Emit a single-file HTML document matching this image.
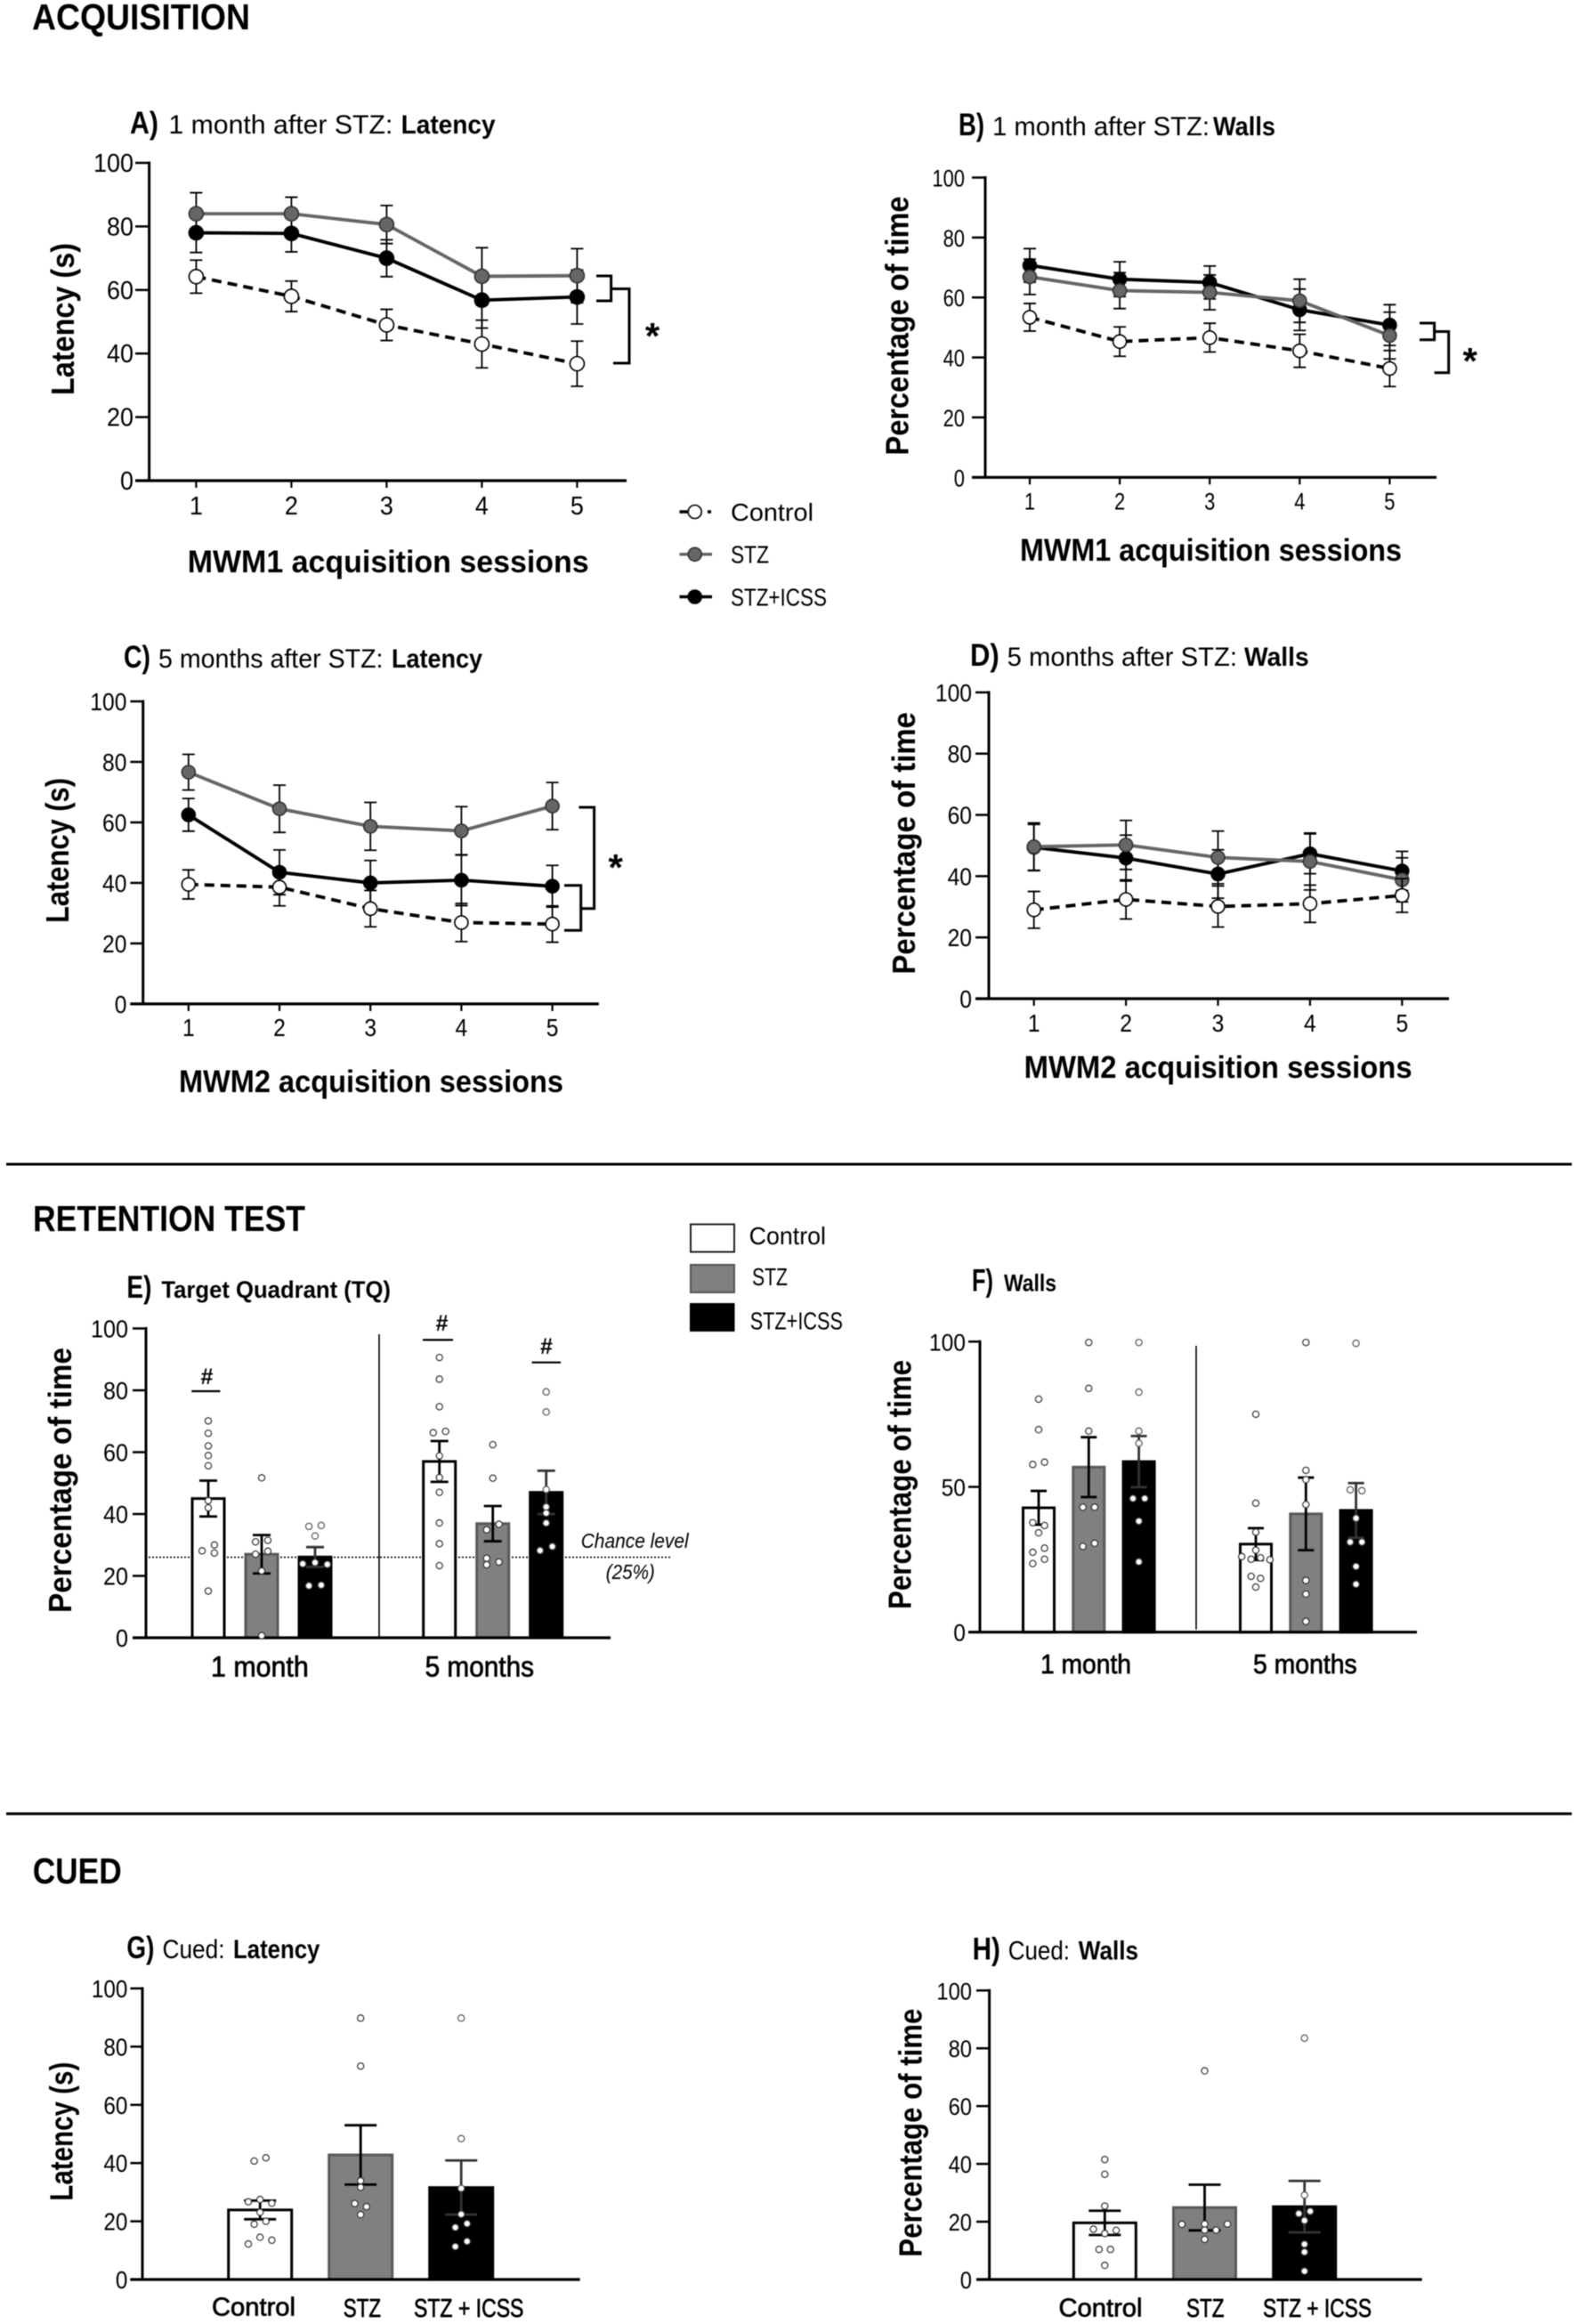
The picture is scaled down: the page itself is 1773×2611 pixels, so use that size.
<!DOCTYPE html>
<html lang="en">
<head>
<meta charset="utf-8">
<title>Acquisition, retention and cued test results</title>
<style>
html,body{margin:0;padding:0;background:#fff;}
svg{display:block;filter:blur(.5px);}
text{font-family:"Liberation Sans",sans-serif;fill:#000;}
.head{font-size:41px;font-weight:700;}
.letter{font-size:35px;font-weight:700;}
.reg{font-size:30px;}
.bold{font-size:30px;font-weight:700;}
.xlab{font-size:35px;font-weight:700;}
.ylab{font-size:36px;font-weight:700;}
.leg{font-size:28px;}
.med{font-size:29px;stroke:#000;stroke-width:.7px;}
.star{font-size:42px;font-weight:700;text-anchor:middle;}
.hash{font-size:25px;font-weight:700;text-anchor:middle;}
.chance{font-size:23px;font-style:italic;}
.br{fill:none;stroke:#000;stroke-width:3;}
</style>
</head>
<body>
<svg id="figure" xmlns="http://www.w3.org/2000/svg" width="1773" height="2611" viewBox="0 0 1773 2611">
<rect width="1773" height="2611" fill="#fff"/>

<text class="head" x="36" y="33" textLength="245" lengthAdjust="spacingAndGlyphs">ACQUISITION</text>
<text class="head" x="37" y="1383" textLength="306" lengthAdjust="spacingAndGlyphs">RETENTION TEST</text>
<text class="head" x="36.7" y="2116" textLength="100" lengthAdjust="spacingAndGlyphs">CUED</text>
<line x1="7" x2="1766" y1="1308" y2="1308" stroke="#000" stroke-width="3"/>
<line x1="7" x2="1766" y1="2037.7" y2="2037.7" stroke="#000" stroke-width="3"/>

<!-- Panel A -->
<g id="panel-a">
<text class="letter" x="146" y="150" textLength="32" lengthAdjust="spacingAndGlyphs">A)</text>
<text class="reg" x="189.4" y="150" textLength="252" lengthAdjust="spacingAndGlyphs">1 month after STZ:</text>
<text class="bold" x="450.6" y="150" textLength="106" lengthAdjust="spacingAndGlyphs">Latency</text>
<text class="xlab" x="210.7" y="643" textLength="451" lengthAdjust="spacingAndGlyphs">MWM1 acquisition sessions</text>
<text class="ylab" transform="translate(83 444) rotate(-90)" textLength="171" lengthAdjust="spacingAndGlyphs">Latency (s)</text>
<path class="br" d="M670 310H686.6V338H670M686.6 324.5H707V408H689"/>
<text class="star" x="733" y="392">*</text>
</g>

<!-- Panel B -->
<g id="panel-b">
<text class="letter" x="1077" y="152" textLength="29" lengthAdjust="spacingAndGlyphs">B)</text>
<text class="reg" x="1115" y="152" textLength="244" lengthAdjust="spacingAndGlyphs">1 month after STZ:</text>
<text class="bold" x="1363" y="152" textLength="70" lengthAdjust="spacingAndGlyphs">Walls</text>
<text class="xlab" x="1146" y="630" textLength="429" lengthAdjust="spacingAndGlyphs">MWM1 acquisition sessions</text>
<text class="ylab" transform="translate(1020.5 511.5) rotate(-90)" textLength="291" lengthAdjust="spacingAndGlyphs">Percentage of time</text>
<path class="br" d="M1595 363H1611.6V381.7H1595M1611.6 372.5H1627.7V418.8H1611.6"/>
<text class="star" x="1651.7" y="420">*</text>
</g>

<!-- Panel C -->
<g id="panel-c">
<text class="letter" x="139" y="750" textLength="30" lengthAdjust="spacingAndGlyphs">C)</text>
<text class="reg" x="178" y="750" textLength="252.5" lengthAdjust="spacingAndGlyphs">5 months after STZ:</text>
<text class="bold" x="440" y="750" textLength="102" lengthAdjust="spacingAndGlyphs">Latency</text>
<text class="xlab" x="201" y="1227" textLength="432" lengthAdjust="spacingAndGlyphs">MWM2 acquisition sessions</text>
<text class="ylab" transform="translate(77 1037) rotate(-90)" textLength="163" lengthAdjust="spacingAndGlyphs">Latency (s)</text>
<path class="br" d="M650.4 907H667.6V1020.7H653"/>
<path class="br" d="M634 994.7H652.7V1045.2H634"/>
<text class="star" x="691.7" y="989">*</text>
</g>

<!-- Panel D -->
<g id="panel-d">
<text class="letter" x="1090" y="748" textLength="32.7" lengthAdjust="spacingAndGlyphs">D)</text>
<text class="reg" x="1131.6" y="748" textLength="258.4" lengthAdjust="spacingAndGlyphs">5 months after STZ:</text>
<text class="bold" x="1398" y="748" textLength="72.7" lengthAdjust="spacingAndGlyphs">Walls</text>
<text class="xlab" x="1150.6" y="1211" textLength="436" lengthAdjust="spacingAndGlyphs">MWM2 acquisition sessions</text>
<text class="ylab" transform="translate(1028 1094.6) rotate(-90)" textLength="294.6" lengthAdjust="spacingAndGlyphs">Percentage of time</text>
</g>

<!-- Line legend -->
<g>
<g>
<line x1="763.5" x2="773" y1="575" y2="575" stroke="#000" stroke-width="3.5"/>
<line x1="795" x2="799" y1="575" y2="575" stroke="#000" stroke-width="3.5"/>
<circle cx="780.7" cy="575" r="7.5" fill="#fff" stroke="#000" stroke-width="1.6"/>
<text class="leg" x="821" y="585" textLength="93" lengthAdjust="spacingAndGlyphs">Control</text>
</g>
<g>
<line x1="763.5" x2="800" y1="622.8" y2="622.8" stroke="#666" stroke-width="3.5"/>
<circle cx="780.7" cy="622.8" r="7.5" fill="#666" stroke="#333" stroke-width="1.6"/>
<text class="leg" x="821" y="632.5" textLength="43" lengthAdjust="spacingAndGlyphs">STZ</text>
</g>
<g>
<line x1="763.5" x2="800" y1="670.5" y2="670.5" stroke="#000" stroke-width="3.5"/>
<circle cx="780.7" cy="670.5" r="7.5" fill="#000" stroke="#000" stroke-width="1.6"/>
<text class="leg" x="821" y="680.5" textLength="108" lengthAdjust="spacingAndGlyphs">STZ+ICSS</text>
</g>
</g>

<!-- Panel E -->
<g id="panel-e">
<text class="letter" x="142.4" y="1458" textLength="28" lengthAdjust="spacingAndGlyphs">E)</text>
<text class="bold" style="font-size:27px" x="181.4" y="1458" textLength="257.6" lengthAdjust="spacingAndGlyphs">Target Quadrant (TQ)</text>
<text class="ylab" transform="translate(80 1812) rotate(-90)" textLength="298" lengthAdjust="spacingAndGlyphs">Percentage of time</text>
<text class="med" style="font-size:32px" x="237" y="1883.6" textLength="109.7" lengthAdjust="spacingAndGlyphs">1 month</text>
<text class="med" style="font-size:32px" x="477.6" y="1883.6" textLength="122.4" lengthAdjust="spacingAndGlyphs">5 months</text>
<line x1="426" x2="426" y1="1499" y2="1840" stroke="#000" stroke-width="1.6"/>
<line x1="167" x2="753.7" y1="1749.6" y2="1749.6" stroke="#000" stroke-width="1.6" stroke-dasharray="2 2"/>
<text class="chance" x="652.7" y="1739" textLength="121" lengthAdjust="spacingAndGlyphs">Chance level</text>
<text class="chance" x="680.8" y="1774" textLength="55" lengthAdjust="spacingAndGlyphs">(25%)</text>
<line x1="215.3" x2="247.4" y1="1563" y2="1563" stroke="#000" stroke-width="2.2"/>
<text class="hash" x="232.5" y="1555">#</text>
<line x1="475" x2="509" y1="1505.4" y2="1505.4" stroke="#000" stroke-width="2.2"/>
<text class="hash" x="496.6" y="1495">#</text>
<line x1="597.6" x2="630" y1="1530.7" y2="1530.7" stroke="#000" stroke-width="2.2"/>
<text class="hash" x="614" y="1521">#</text>
</g>

<!-- Bar legend -->
<g>
<g>
<rect x="776" y="1375.5" width="49" height="31" fill="#fff" stroke="#222" stroke-width="2"/>
<text class="leg" x="841.6" y="1398" textLength="86.4" lengthAdjust="spacingAndGlyphs">Control</text>
</g>
<g>
<rect x="776" y="1421" width="49" height="31" fill="#808080" stroke="#555" stroke-width="2"/>
<text class="leg" x="845" y="1444" textLength="40" lengthAdjust="spacingAndGlyphs">STZ</text>
</g>
<g>
<rect x="775" y="1464" width="50.5" height="32" fill="#000"/>
<text class="leg" x="842.7" y="1493.6" textLength="104.3" lengthAdjust="spacingAndGlyphs">STZ+ICSS</text>
</g>
</g>

<!-- Panel F -->
<g id="panel-f">
<text class="letter" x="1092" y="1450.7" textLength="24" lengthAdjust="spacingAndGlyphs">F)</text>
<text class="bold" style="font-size:27px" x="1128" y="1450.7" textLength="59" lengthAdjust="spacingAndGlyphs">Walls</text>
<text class="ylab" transform="translate(1023.5 1808) rotate(-90)" textLength="280" lengthAdjust="spacingAndGlyphs">Percentage of time</text>
<text class="med" style="font-size:31px" x="1169" y="1880" textLength="102" lengthAdjust="spacingAndGlyphs">1 month</text>
<text class="med" style="font-size:31px" x="1408" y="1880" textLength="116.7" lengthAdjust="spacingAndGlyphs">5 months</text>
<line x1="1344" x2="1344" y1="1512" y2="1830.7" stroke="#000" stroke-width="1.6"/>
</g>

<!-- Panel G -->
<g id="panel-g">
<text class="letter" x="142.4" y="2200" textLength="31" lengthAdjust="spacingAndGlyphs">G)</text>
<text class="reg" x="182.5" y="2200" textLength="70" lengthAdjust="spacingAndGlyphs">Cued:</text>
<text class="bold" x="262" y="2200" textLength="97.4" lengthAdjust="spacingAndGlyphs">Latency</text>
<text class="ylab" transform="translate(81.4 2472.7) rotate(-90)" textLength="156" lengthAdjust="spacingAndGlyphs">Latency (s)</text>
<text class="med" x="238" y="2601.7" textLength="94" lengthAdjust="spacingAndGlyphs">Control</text>
<text class="med" x="385.8" y="2603" textLength="42.2" lengthAdjust="spacingAndGlyphs">STZ</text>
<text class="med" x="465" y="2603" textLength="123.4" lengthAdjust="spacingAndGlyphs">STZ + ICSS</text>
</g>

<!-- Panel H -->
<g id="panel-h">
<text class="letter" x="1092.6" y="2201.7" textLength="31.2" lengthAdjust="spacingAndGlyphs">H)</text>
<text class="reg" x="1132.7" y="2201.7" textLength="69.3" lengthAdjust="spacingAndGlyphs">Cued:</text>
<text class="bold" x="1211.8" y="2201.7" textLength="67.2" lengthAdjust="spacingAndGlyphs">Walls</text>
<text class="ylab" transform="translate(1035.7 2535.7) rotate(-90)" textLength="279" lengthAdjust="spacingAndGlyphs">Percentage of time</text>
<text class="med" x="1189.5" y="2602.7" textLength="94" lengthAdjust="spacingAndGlyphs">Control</text>
<text class="med" x="1333" y="2603" textLength="42.5" lengthAdjust="spacingAndGlyphs">STZ</text>
<text class="med" x="1419" y="2603" textLength="122" lengthAdjust="spacingAndGlyphs">STZ + ICSS</text>
</g>
</svg>

<script>
// ---------- Shared axis values ----------
const sessionLabels = ['1', '2', '3', '4', '5'];
const yTicks100 = [0, 20, 40, 60, 80, 100];
const yTickLabels100 = ['0', '20', '40', '60', '80', '100'];
const yTicks50 = [0, 50, 100];
const yTickLabels50 = ['0', '50', '100'];

// ---------- Panel A: latency, 1 month ----------
const aIcss = [78, 77.8, 70, 56.8, 57.8];
const aIcssErr = [6.2, 5.8, 5.8, 8.8, 8.5];
const aStz = [84, 84, 80.6, 64.3, 64.5];
const aStzErr = [6.6, 5.2, 6, 9, 8.5];
const aCtrl = [64.2, 58, 49, 43, 36.8];
const aCtrlErr = [5.2, 4.8, 4.9, 7.5, 7.1];

// ---------- Panel B: walls, 1 month ----------
const bIcss = [70.7, 66.1, 65, 55.9, 50.8];
const bIcssErr = [5.6, 5.8, 5.5, 6.9, 6.8];
const bStz = [66.9, 62.3, 61.7, 58.9, 47.3];
const bStzErr = [5.9, 6, 5.8, 7.2, 7.8];
const bCtrl = [53.4, 45.3, 46.6, 42.2, 36.3];
const bCtrlErr = [4.6, 4.9, 4.8, 5.5, 6];

// ---------- Panel C: latency, 5 months ----------
const cIcss = [62.5, 43.5, 40, 40.9, 38.9];
const cIcssErr = [5.4, 7.4, 7.4, 8.4, 6.9];
const cStz = [76.6, 64.5, 58.7, 57.2, 65.4];
const cStzErr = [5.9, 7.8, 7.9, 8, 7.8];
const cCtrl = [39.5, 38.6, 31.5, 26.9, 26.4];
const cCtrlErr = [4.8, 6.2, 6, 6.3, 6];

// ---------- Panel D: walls, 5 months ----------
const dIcss = [49.4, 45.9, 40.7, 47.3, 41.7];
const dIcssErr = [7.5, 7.5, 7.9, 6.5, 6.4];
const dStz = [49.6, 50.2, 46.1, 44.8, 38.8];
const dStzErr = [7.8, 8, 8.6, 9.3, 7.2];
const dCtrl = [29, 32.4, 30.1, 31, 33.7];
const dCtrlErr = [6, 6.4, 6.7, 6.1, 5.5];

// ---------- Panel E: target quadrant (Control, STZ, ICSS at 1 month, then at 5 months) ----------
const eMeans = [45, 27, 26.1, 57, 36.9, 47];
const eErrs = [5.8, 6.2, 3.2, 6.6, 5.7, 7];
const eDots = [
  [70.1, 66.1, 62, 58.9, 55.6, 44.3, 42, 30, 28.1, 27.4, 15.1],
  [51.7, 31, 31.5, 27, 28, 21.6, 0.7],
  [36, 36.3, 32.9, 23.9, 24.3, 23.7, 16.8, 17],
  [90.6, 83.6, 74.7, 66.3, 66.7, 58.8, 51.8, 47, 37.1, 30.4, 23.3],
  [62.4, 51.6, 36.7, 34.9, 25.7, 23.6, 24.5],
  [79.5, 73, 47.9, 42.3, 40.3, 37.1, 29.5, 28.2]
];
const eSwarmColumns = [
  [0, 0, 0, 0, 0, 0, 0, 1, -1, 1, 0],
  [0, -1, 1, -1, 1, 0, 0],
  [-1, 1, 0, -2, 0, 2, -1, 1],
  [0, 0, 0, -1, 1, 0, 0, 0, 0, 0, 0],
  [0, 0, 1, -1, -1, -1, 1],
  [0, 0, 0, 0, 0, 0, 1, -1]
];

// ---------- Panel F: walls, retention ----------
const fMeans = [42.8, 56.8, 58.7, 30.3, 40.7, 41.9];
const fErrs = [5.8, 10.3, 8.8, 5.5, 12.5, 9.4];
const fDots = [
  [80.2, 69.7, 58.5, 57.7, 37.7, 36.7, 34.2, 28.9, 27.5, 25.1, 23.6],
  [99.7, 83.9, 69.2, 43, 43, 30.6, 29.5],
  [99.7, 82.6, 69.2, 65, 46, 46, 38.2, 24.2],
  [75, 44.4, 34.4, 28.2, 26, 25.6, 25.1, 24.9, 19.2, 18.5, 15.5],
  [99.7, 55.7, 52.5, 43.9, 17.8, 13.1, 3.7],
  [99.4, 49, 48.7, 39.2, 31, 31, 22.6, 16.5]
];
const fSwarmColumns = [
  [0, 0, 1, -1, -1, 1, 0, 1, -1, 1, -1],
  [0, 0, 0, -1, 1, 1, -1],
  [0, 0, 0, 0, -1, 1, 0, 0],
  [0, 0, 0, 0, -2.4, 0.8, -0.8, 2.4, -0.8, 0.8, 0],
  [0, 0, 0, 0, 0, 0, 0],
  [0, -1, 1, 0, -1, 1, 0, 0]
];

// ---------- Panel G: cued latency ----------
const gMeans = [23.9, 42.8, 31.6];
const gErrs = [3.2, 10.2, 9.3];
const gDots = [
  [41.8, 40.7, 27.5, 26.7, 26.2, 23.1, 20, 19, 14.5, 13.5, 12.2],
  [89.8, 73.3, 33.9, 31.7, 26.1, 25, 22.3],
  [89.8, 48.4, 31.3, 22.4, 19.2, 17.9, 13.1, 11.3]
];
const gSwarmColumns = [
  [1, -1, 0, -2, 2, 0, 1, -1, 0, 2, -2],
  [0, 0, 0, 0, -1, 1, 0],
  [0, 0, 0, 0, 1, -1, 1, -1]
];

// ---------- Panel H: cued walls ----------
const hMeans = [19.6, 24.9, 25.2];
const hErrs = [4.2, 7.9, 8.9];
const hDots = [
  [41.5, 36.4, 25.4, 17.4, 17, 15.9, 10.4, 10.4, 4.9],
  [72.2, 19.1, 19.2, 19.2, 17.1, 17.1, 13.9],
  [83.5, 29.2, 23.6, 22.8, 20.4, 12.2, 9.5, 2.9]
];
const hSwarmColumns = [
  [0, 0, 0, -2, 2, 0, -1, 1, 0],
  [0, -4, 0, 4, 0, 2, 0],
  [0, 0, 1, -1, 0, 0, 0, 0]
];

// ---------- Rendering ----------
const NS = document.getElementById('figure').namespaceURI;

function make(tag, parent, attrs) {
  const el = document.createElementNS(NS, tag);
  for (const k in attrs) el.setAttribute(k, attrs[k]);
  parent.appendChild(el);
  return el;
}

function yScale(ax) {
  return v => ax.y0 - (v / 100) * (ax.y0 - ax.yTop);
}

function drawYAxis(g, prefix, ax, ticks, labels) {
  const y = yScale(ax);
  const yLine = make('line', g, {x1: ax.x0, x2: ax.x0, y1: ax.yTop - 1.5, y2: ax.y0, stroke: '#000', 'stroke-width': 3});
  
  
  ticks.forEach((t, i) => {
    const tick = make('line', g, {x1: ax.tickLeft, x2: ax.x0, y1: y(t), y2: y(t), stroke: '#000', 'stroke-width': 2.5});
    
    
    const lab = make('text', g, {x: ax.tickLeft - ax.tickGap, y: y(t) + 10, 'text-anchor': 'end', 'font-size': ax.tickFont, textLength: labels[i].length * ax.digitW, lengthAdjust: 'spacingAndGlyphs'});
    lab.textContent = labels[i];
    
    
  });
  const xLine = make('line', g, {x1: ax.tickLeft, x2: ax.right, y1: ax.y0, y2: ax.y0, stroke: '#000', 'stroke-width': 3.2});
  
  
}

function drawLinePanel(id, prefix, ax, series) {
  const g = document.getElementById(id);
  const y = yScale(ax);
  const x = i => ax.first + i * ax.step;
  drawYAxis(g, prefix, ax, yTicks100, yTickLabels100);
  sessionLabels.forEach((s, i) => {
    const tick = make('line', g, {x1: x(i), x2: x(i), y1: ax.y0, y2: ax.y0 + 8, stroke: '#000', 'stroke-width': 2.2});
    
    
    const lab = make('text', g, {x: x(i), y: ax.y0 + ax.xLabelDy, 'text-anchor': 'middle', 'font-size': ax.tickFont, textLength: ax.digitW, lengthAdjust: 'spacingAndGlyphs'});
    lab.textContent = s;
    
    
  });
  series.forEach(se => {
    se.values.forEach((v, i) => {
      const e = make('path', g, {
        d: 'M' + (x(i) - ax.cap) + ' ' + y(v + se.errs[i]) + 'H' + (x(i) + ax.cap) +
           'M' + x(i) + ' ' + y(v + se.errs[i]) + 'V' + y(v - se.errs[i]) +
           'M' + (x(i) - ax.cap) + ' ' + y(v - se.errs[i]) + 'H' + (x(i) + ax.cap),
        fill: 'none', stroke: '#000', 'stroke-width': 1.8
      });
      
      
    });
    const pts = se.values.map((v, i) => x(i) + ',' + y(v)).join(' ');
    const attrs = {points: pts, fill: 'none', stroke: se.line, 'stroke-width': 3.8};
    if (se.dash) attrs['stroke-dasharray'] = se.dash;
    const poly = make('polyline', g, attrs);
    
    
    se.values.forEach((v, i) => {
      const c = make('circle', g, {cx: x(i), cy: y(v), r: ax.r, fill: se.fill, stroke: se.edge, 'stroke-width': 1.6});
      
      
    });
  });
}

const barStyles = [
  {name: 'control', fill: '#fff', edge: '#000', err: '#000'},
  {name: 'stz', fill: '#808080', edge: '#5a5a5a', err: '#000'},
  {name: 'stz-icss', fill: '#000', edge: '#000', err: '#333'}
];

function drawBarPanel(id, prefix, ax, ticks, labels, means, errs, dots, cols) {
  const g = document.getElementById(id);
  const y = yScale(ax);
  const x = i => ax.first + (i % 3) * ax.barStep + Math.floor(i / 3) * ax.groupStep;
  means.forEach((m, i) => {
    const st = barStyles[i % 3];
    const bar = make('rect', g, {x: x(i) - ax.halfBar, y: y(m), width: ax.halfBar * 2, height: ax.y0 - y(m), fill: st.fill, stroke: st.edge, 'stroke-width': 3});
    
    
  });
  drawYAxis(g, prefix, ax, ticks, labels);
  means.forEach((m, i) => {
    const st = barStyles[i % 3];
    const e = make('path', g, {
      d: 'M' + (x(i) - ax.cap) + ' ' + y(m + errs[i]) + 'H' + (x(i) + ax.cap) +
         'M' + x(i) + ' ' + y(m + errs[i]) + 'V' + y(m - errs[i]) +
         'M' + (x(i) - ax.cap) + ' ' + y(m - errs[i]) + 'H' + (x(i) + ax.cap),
      fill: 'none', stroke: st.err, 'stroke-width': 2.8
    });
    
    
  });
  dots.forEach((group, i) => {
    const st = barStyles[i % 3];
    group.forEach((v, k) => {
      const d = make('circle', g, {cx: x(i) + cols[i][k] * ax.slot, cy: y(v), r: 3.6, fill: '#fff', stroke: i % 3 === 2 ? '#555' : '#333', 'stroke-width': 1.2});
      
      
    });
  });
}

function lineSeries(icss, icssErr, stz, stzErr, ctrl, ctrlErr) {
  return [
    {name: 'stz-icss', values: icss, errs: icssErr, line: '#000', fill: '#000', edge: '#000'},
    {name: 'stz', values: stz, errs: stzErr, line: '#666', fill: '#666', edge: '#333'},
    {name: 'control', values: ctrl, errs: ctrlErr, line: '#000', fill: '#fff', edge: '#000', dash: '11 7'}
  ];
}

drawLinePanel('panel-a', 'panel-a',
  {x0: 167.6, y0: 540, yTop: 183, right: 704, tickLeft: 152, tickGap: 2, first: 220.4, step: 107, tickFont: 29, digitW: 15, xLabelDy: 38, r: 8, cap: 7},
  lineSeries(aIcss, aIcssErr, aStz, aStzErr, aCtrl, aCtrlErr));
drawLinePanel('panel-b', 'panel-b',
  {x0: 1107, y0: 536.3, yTop: 199.5, right: 1614, tickLeft: 1092, tickGap: 8, first: 1157, step: 101.1, tickFont: 27, digitW: 12.2, xLabelDy: 36, r: 7.5, cap: 7},
  lineSeries(bIcss, bIcssErr, bStz, bStzErr, bCtrl, bCtrlErr));
drawLinePanel('panel-c', 'panel-c',
  {x0: 160.7, y0: 1127.9, yTop: 788, right: 672.8, tickLeft: 146.4, tickGap: 4, first: 211.8, step: 102.2, tickFont: 28, digitW: 13.7, xLabelDy: 36, r: 7.5, cap: 7},
  lineSeries(cIcss, cIcssErr, cStz, cStzErr, cCtrl, cCtrlErr));
drawLinePanel('panel-d', 'panel-d',
  {x0: 1111, y0: 1122, yTop: 777.9, right: 1628, tickLeft: 1096, tickGap: 4, first: 1161.7, step: 103.4, tickFont: 28, digitW: 13.7, xLabelDy: 37, r: 7.5, cap: 7},
  lineSeries(dIcss, dIcssErr, dStz, dStzErr, dCtrl, dCtrlErr));

drawBarPanel('panel-e', 'panel-e',
  {x0: 164, y0: 1840, yTop: 1492.5, right: 686, tickLeft: 149, tickGap: 5, first: 234, barStep: 60, groupStep: 259.7, halfBar: 18, cap: 10, tickFont: 28, digitW: 14, slot: 6.9},
  yTicks100, yTickLabels100, eMeans, eErrs, eDots, eSwarmColumns);
drawBarPanel('panel-f', 'panel-f',
  {x0: 1101, y0: 1833.7, yTop: 1507.3, right: 1592, tickLeft: 1088, tickGap: 3, first: 1167, barStep: 56.3, groupStep: 244, halfBar: 17.5, cap: 9, tickFont: 27, digitW: 13.7, slot: 6.6},
  yTicks50, yTickLabels50, fMeans, fErrs, fDots, fSwarmColumns);
drawBarPanel('panel-g', 'panel-g',
  {x0: 160, y0: 2561, yTop: 2234, right: 651.6, tickLeft: 146.4, tickGap: 3, first: 292.2, barStep: 113, groupStep: 0, halfBar: 35.5, cap: 18, tickFont: 28, digitW: 13.5, slot: 6.6},
  yTicks100, yTickLabels100, gMeans, gErrs, gDots, gSwarmColumns);
drawBarPanel('panel-h', 'panel-h',
  {x0: 1111.6, y0: 2561, yTop: 2236.3, right: 1597.7, tickLeft: 1097, tickGap: 5, first: 1241.3, barStep: 112.2, groupStep: 0, halfBar: 35, cap: 18, tickFont: 27, digitW: 13.2, slot: 6.4},
  yTicks100, yTickLabels100, hMeans, hErrs, hDots, hSwarmColumns);
</script>
</body>
</html>
